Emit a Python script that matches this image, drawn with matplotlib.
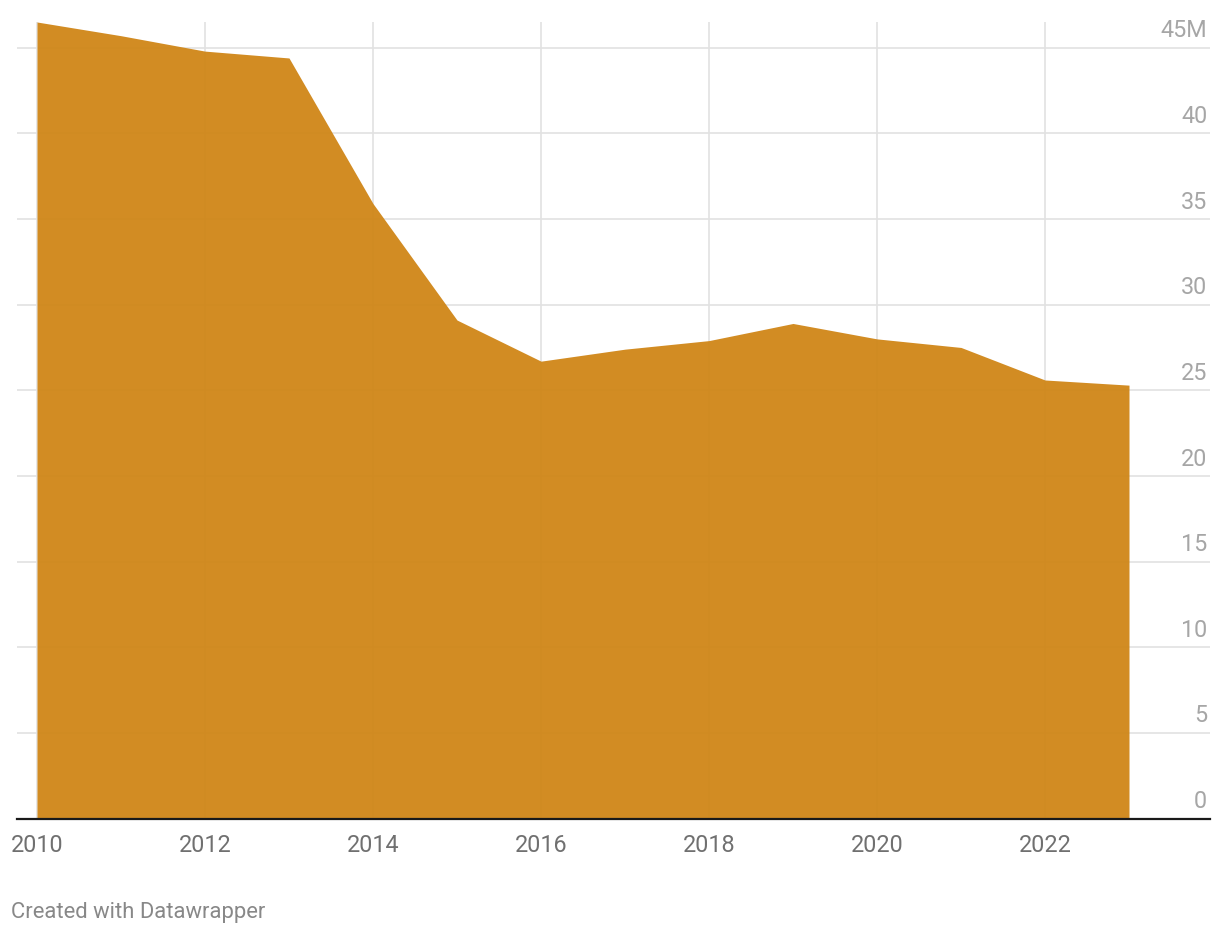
import matplotlib
matplotlib.use("Agg")
import matplotlib.pyplot as plt

plt.rcParams["font.family"] = ["Roboto", "DejaVu Sans"]

years = [2010, 2011, 2012, 2013, 2014, 2015, 2016, 2017, 2018, 2019, 2020, 2021, 2022, 2023]
values = [46.5, 45.7, 44.8, 44.4, 35.9, 29.1, 26.7, 27.4, 27.9, 28.9, 28.0, 27.5, 25.6, 25.3]

yticks = [0, 5, 10, 15, 20, 25, 30, 35, 40, 45]
ylabels = ["0", "5", "10", "15", "20", "25", "30", "35", "40", "45M"]
xticks = [2010, 2012, 2014, 2016, 2018, 2020, 2022]

W, H = 1220, 934
fig = plt.figure(figsize=(W / 100, H / 100), dpi=100)

# axes box in pixels: left 17, right 1210, bottom 818.5, top 22
ax = fig.add_axes([17 / W, 1 - 818.5 / H, (1210 - 17) / W, (818.5 - 22) / H])
ax.set_xlim(2010 - 20 / 84, 2010 + 1173 / 84)
ax.set_ylim(0, 46.5)

ax.fill_between(years, values, 0, color="#d0871a", alpha=0.96, lw=0, zorder=2,
                clip_on=False)

ax.set_yticks(yticks)
ax.set_xticks(xticks)
ax.grid(True, color="#e2e2e2", lw=1.2, zorder=0)
ax.set_axisbelow(True)
ax.tick_params(axis="y", left=False, labelleft=False)
ax.tick_params(axis="x", length=0, pad=11, labelsize=16.8, labelcolor="#707070")

for s in ["left", "right", "top"]:
    ax.spines[s].set_visible(False)
ax.spines["bottom"].set_color("#1a1a1a")
ax.spines["bottom"].set_linewidth(1.6)
ax.spines["bottom"].set_zorder(5)

for v, lab in zip(yticks, ylabels):
    ax.annotate(lab, xy=(1, v), xycoords=ax.get_yaxis_transform(),
                xytext=(-2, 7.5), textcoords="offset points",
                ha="right", va="baseline", fontsize=16.8, color="#a6a6a6", zorder=6)

fig.text(11 / W, 1 - 918 / H, "Created with Datawrapper", fontsize=15.8,
         color="#888888", ha="left", va="baseline")

fig.savefig("out.png", dpi=100, facecolor="white")
